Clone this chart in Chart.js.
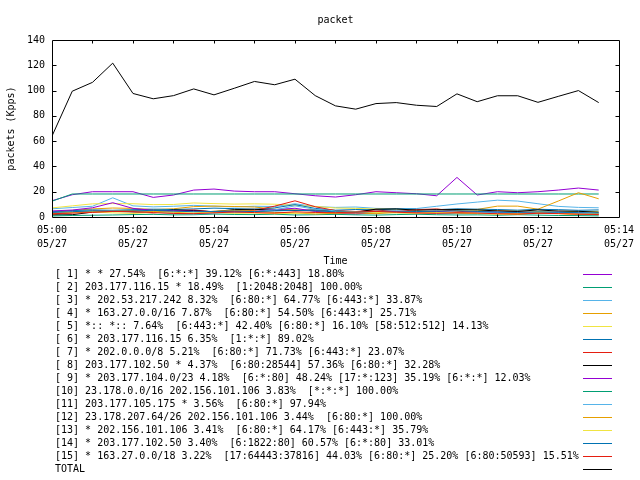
<!DOCTYPE html>
<html>
<head>
<meta charset="utf-8">
<script src="https://cdn.jsdelivr.net/npm/chart.js@4.4.0/dist/chart.umd.min.js"></script>
<style>
html, body { margin: 0; padding: 0; background: #fff; }
</style>
</head>
<body>
<canvas id="graficoPacket" width="640" height="480"></canvas>
<script>
// Muestras cada 30 segundos
const times = ['05:00:00', '05:00:30', '05:01:00', '05:01:30', '05:02:00', '05:02:30', '05:03:00',
    '05:03:30', '05:04:00', '05:04:30', '05:05:00', '05:05:30', '05:06:00', '05:06:30',
    '05:07:00', '05:07:30', '05:08:00', '05:08:30', '05:09:00', '05:09:30', '05:10:00',
    '05:10:30', '05:11:00', '05:11:30', '05:12:00', '05:12:30', '05:13:00', '05:13:30'];
const xTickLabels = ['05:00', '05:02', '05:04', '05:06', '05:08', '05:10', '05:12', '05:14'];
const xTickDate = '05/27';

const seriesLabels = [
    '[ 1] * * 27.54%  [6:*:*] 39.12% [6:*:443] 18.80%',
    '[ 2] 203.177.116.15 * 18.49%  [1:2048:2048] 100.00%',
    '[ 3] * 202.53.217.242 8.32%  [6:80:*] 64.77% [6:443:*] 33.87%',
    '[ 4] * 163.27.0.0/16 7.87%  [6:80:*] 54.50% [6:443:*] 25.71%',
    '[ 5] *:: *:: 7.64%  [6:443:*] 42.40% [6:80:*] 16.10% [58:512:512] 14.13%',
    '[ 6] * 203.177.116.15 6.35%  [1:*:*] 89.02%',
    '[ 7] * 202.0.0.0/8 5.21%  [6:80:*] 71.73% [6:443:*] 23.07%',
    '[ 8] 203.177.102.50 * 4.37%  [6:80:28544] 57.36% [6:80:*] 32.28%',
    '[ 9] * 203.177.104.0/23 4.18%  [6:*:80] 48.24% [17:*:123] 35.19% [6:*:*] 12.03%',
    '[10] 23.178.0.0/16 202.156.101.106 3.83%  [*:*:*] 100.00%',
    '[11] 203.177.105.175 * 3.56%  [6:80:*] 97.94%',
    '[12] 23.178.207.64/26 202.156.101.106 3.44%  [6:80:*] 100.00%',
    '[13] * 202.156.101.106 3.41%  [6:80:*] 64.17% [6:443:*] 35.79%',
    '[14] * 203.177.102.50 3.40%  [6:1822:80] 60.57% [6:*:80] 33.01%',
    '[15] * 163.27.0.0/18 3.22%  [17:64443:37816] 44.03% [6:80:*] 25.20% [6:80:50593] 15.51%',
    'TOTAL'
];

const s1 = [12.9, 17.6, 20, 20, 20, 15.5, 17.4, 21.3, 22.1, 20.5, 20, 20, 18.4, 16.8, 15.8, 17.6, 20, 19.2, 18.4, 16.8, 31.3, 17.4, 20, 19.2, 20, 21.3, 22.9, 21.3];
const s2 = [12.5, 18.2, 18.2, 18.2, 18.2, 18.2, 18.2, 18.2, 18.2, 18.2, 18.2, 18.2, 18.2, 18.2, 18.2, 18.2, 18.2, 18.2, 18.2, 18.2, 18.2, 18.2, 18.2, 18.2, 18.2, 18.2, 18.2, 18.2];
const s3 = [6.5, 7.5, 8.5, 15.2, 8.8, 8, 8.5, 9.2, 8.6, 8, 8.5, 8.3, 10.5, 8.2, 7.6, 7.9, 6.8, 6.6, 6.7, 8.5, 10.3, 11.8, 13.3, 12.6, 10.5, 8.4, 7.6, 7.3];
const s4 = [3.5, 5.2, 6.4, 7.1, 6.8, 5.9, 6.5, 8.2, 8.6, 8.3, 7.9, 6.2, 5.6, 4.8, 3.2, 2.5, 3.3, 4.1, 3.8, 4.6, 5.2, 6, 8.6, 8.6, 6.2, 12.6, 19.2, 14.4];
const s5 = [7.2, 8.8, 10.4, 10.6, 10.5, 9.8, 9.9, 11.1, 10.6, 10.2, 10.4, 10.1, 9.2, 8.4, 7.1, 6.8, 6.3, 6.1, 5.6, 6, 5.8, 5.3, 5.2, 4.9, 4.4, 4.6, 4.2, 4.5];
const s6 = [4.2, 5.1, 5.6, 5.3, 5.8, 6.2, 5.9, 6.4, 7, 6.6, 6.2, 7.2, 9.8, 6.8, 5.4, 5.9, 5.7, 6.3, 6.1, 5.8, 6.5, 6.2, 5.9, 5.4, 6.1, 5.8, 5.3, 5.6];
const s7 = [2.1, 3.4, 4.6, 4.9, 4.2, 3.2, 4.8, 5.6, 3.9, 4.5, 5.3, 8.6, 12.8, 8.1, 5.1, 4.3, 5.6, 4.2, 5.8, 6.4, 4.5, 3.9, 4.7, 4.3, 3.4, 2.8, 2.5, 1.8];
const s8 = [1.6, 1.8, 3.9, 4.4, 4.1, 3.8, 5.6, 5.1, 4.2, 5.9, 6.1, 5.4, 5.2, 5.6, 4.9, 3.8, 6.2, 6.4, 5.4, 5.7, 5.9, 5.6, 4.8, 4.4, 5.6, 4.7, 4.5, 3.8];
const s9 = [4.8, 5.5, 7.3, 11.3, 6.8, 5.2, 4.9, 4.6, 4.3, 3.9, 4.6, 5.8, 6.9, 4.4, 3.1, 2.4, 3.6, 4.2, 3.8, 4.4, 3.6, 4.1, 3.7, 2.9, 3.5, 3.8, 3.2, 2.6];
const s10 = [0.8, 1.2, 1.4, 1.6, 1.9, 2.1, 1.7, 1.8, 2.3, 2, 1.9, 2.2, 1.6, 1.8, 2.1, 1.7, 1.5, 1.9, 2.2, 1.8, 1.6, 1.7, 1.4, 1.8, 1.5, 1.2, 1.1, 0.9];
const s11 = [2.8, 3.6, 4.4, 5.1, 4.6, 3.6, 3.1, 2.4, 2.9, 3.4, 4.2, 5.6, 8.8, 6.1, 4.9, 4.1, 3.2, 3.5, 2.8, 3.1, 2.6, 3.3, 3.9, 3.2, 2.8, 3.5, 3.1, 2.6];
const s12 = [2.4, 3.9, 4.3, 4.6, 5.1, 4.4, 3.8, 2.9, 4.6, 5.3, 4.8, 3.6, 3.2, 2.4, 2.9, 3.3, 2.6, 3.7, 4.1, 3.5, 3.1, 2.7, 2.4, 2.1, 3.3, 2.8, 2.1, 1.9];
const s13 = [3.1, 3.4, 3.8, 3.3, 2.8, 3.6, 4.2, 3.9, 3.4, 2.9, 3.1, 2.6, 2.9, 3.4, 3.8, 4.1, 3.6, 3.2, 2.8, 3.4, 3.8, 2.9, 2.4, 2.8, 3.1, 2.6, 2.3, 2.6];
const s14 = [3.6, 4.2, 4.9, 4.6, 4.8, 5.3, 4.6, 4.2, 4.4, 4.7, 4.3, 4.8, 5.3, 4.9, 4.1, 3.8, 4.5, 4.8, 4.3, 4.6, 4.9, 4.4, 3.9, 3.6, 4.1, 3.8, 3.4, 3.2];
const s15 = [2.6, 3.1, 3.6, 4.4, 4.2, 3.5, 2.8, 2.6, 3.3, 3.9, 3.5, 3.1, 4.1, 3.6, 3.4, 3.9, 4.4, 3.8, 3.2, 2.9, 3.4, 3.1, 2.6, 2.4, 2.9, 2.7, 2.2, 2.0];
const total = [64, 99.5, 106.5, 121.7, 97.7, 93.5, 96, 101.3, 96.6, 101.8, 107.2, 104.6, 109, 96, 87.9, 85.3, 89.7, 90.5, 88.4, 87.4, 97.4, 91.2, 95.9, 95.9, 90.7, 95.4, 100, 90.5];

const allSeries = [s1, s2, s3, s4, s5, s6, s7, s8, s9, s10, s11, s12, s13, s14, s15, total];

// Colores por defecto de gnuplot
const palette = ['#9400D3', '#009E73', '#56B4E9', '#E69F00', '#F0E442', '#0072B2', '#E51E10', '#000000'];

const FONT = 'DejaVu Sans Mono';
Chart.defaults.font.family = FONT;
Chart.defaults.font.size = 10;
Chart.defaults.color = '#000';

// minutos desde 05:00
const minutos = times.map(t => {
    const p = t.split(':').map(Number);
    return (p[0] - 5) * 60 + p[1] + p[2] / 60;
});

const datasets = allSeries.map((serie, i) => ({
    label: seriesLabels[i],
    data: serie.map((v, j) => ({ x: minutos[j], y: v })),
    borderColor: i === 15 ? '#000000' : palette[i % 8],
    borderWidth: 1,
    pointRadius: 0,
    tension: 0,
    fill: false,
    order: 15 - i
}));

// Titulo, marco, ticks hacia adentro y leyenda estilo gnuplot
const marcoGnuplot = {
    id: 'marcoGnuplot',
    afterDraw(chart) {
        const { ctx, chartArea: a, scales: { x, y } } = chart;
        const L = Math.round(a.left) + 0.5, R = Math.round(a.right) + 0.5;
        const T = Math.round(a.top) + 0.5, B = Math.round(a.bottom) + 0.5;
        ctx.save();
        ctx.strokeStyle = '#000';
        ctx.lineWidth = 1;
        ctx.beginPath();
        ctx.rect(L, T, R - L, B - T);
        y.ticks.forEach(t => {
            if (t.value === y.min || t.value === y.max) return;
            const py = Math.round(y.getPixelForValue(t.value)) + 0.5;
            ctx.moveTo(L, py); ctx.lineTo(L + 4, py);
            ctx.moveTo(R, py); ctx.lineTo(R - 4, py);
        });
        x.ticks.forEach(t => {
            if (t.value === x.min || t.value === x.max) return;
            const px = Math.round(x.getPixelForValue(t.value)) + 0.5;
            ctx.moveTo(px, B); ctx.lineTo(px, B - 3);
            ctx.moveTo(px, T); ctx.lineTo(px, T + 3);
        });
        ctx.stroke();

        ctx.font = '10px "' + FONT + '"';
        ctx.textBaseline = 'middle';
        ctx.fillStyle = '#000';
        ctx.textAlign = 'center';
        ctx.fillText('packet', (a.left + a.right) / 2, 20);

        ctx.textAlign = 'left';
        chart.data.datasets.forEach((ds, i) => {
            const ry = Math.round(274 + 13 * i);
            ctx.fillText(ds.label, 55, ry);
            ctx.beginPath();
            ctx.strokeStyle = ds.borderColor;
            ctx.moveTo(583, ry + 0.5);
            ctx.lineTo(612, ry + 0.5);
            ctx.stroke();
        });
        ctx.restore();
    }
};

const ctx = document.getElementById('graficoPacket').getContext('2d');
new Chart(ctx, {
    type: 'line',
    data: { datasets: datasets },
    plugins: [marcoGnuplot],
    options: {
        responsive: false,
        animation: false,
        layout: { padding: { left: 0, right: 19, top: 40, bottom: 213 } },
        plugins: {
            legend: { display: false },
            tooltip: { enabled: false },
            title: { display: false }
        },
        scales: {
            x: {
                type: 'linear',
                min: 0,
                max: 14,
                afterFit: s => { s.height = 50; },
                grid: { display: false, drawTicks: false },
                border: { display: false },
                ticks: {
                    stepSize: 1,
                    autoSkip: false,
                    maxRotation: 0,
                    minRotation: 0,
                    padding: 6,
                    color: '#000',
                    font: { size: 10, lineHeight: 1.4 },
                    callback: v => (v % 2 === 0 ? [xTickLabels[v / 2], xTickDate] : '')
                },
                title: { display: true, text: 'Time', color: '#000', padding: { top: 0, bottom: 0 } }
            },
            y: {
                min: 0,
                max: 140,
                afterFit: s => { s.width = 52; },
                grid: { display: false, drawTicks: false },
                border: { display: false },
                ticks: { stepSize: 20, padding: 7, color: '#000' },
                title: { display: true, text: 'packets (Kpps)', color: '#000', padding: { top: 5, bottom: 0 } }
            }
        }
    }
});
</script>
</body>
</html>
